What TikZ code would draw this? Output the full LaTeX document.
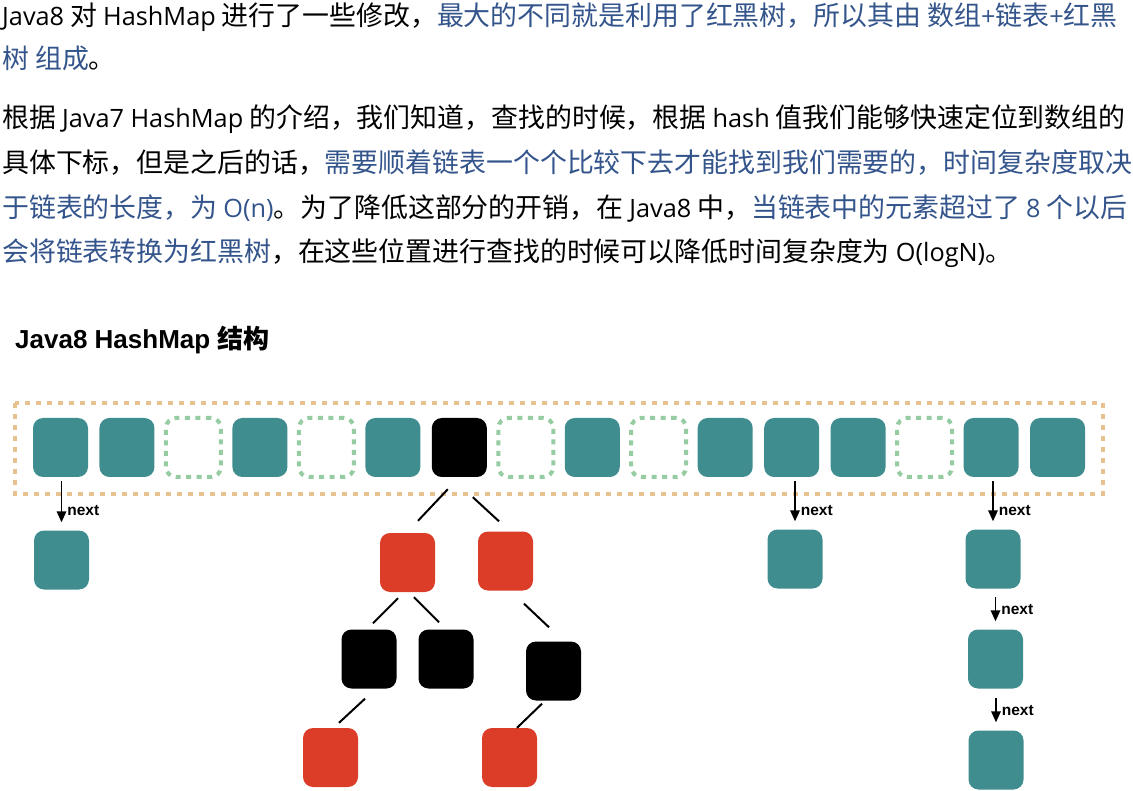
\documentclass[tikz,border=0pt]{standalone}
\usepackage{fontspec}
\setmainfont{Noto Sans CJK SC}
\newfontfamily\lat{Open Sans}[Scale=0.94]
\newfontfamily\hel{Liberation Sans}
\newfontfamily\cjk{Noto Sans CJK SC}
\usetikzlibrary{arrows.meta,calc}
\definecolor{tealc}{RGB}{64,141,143}
\definecolor{redn}{RGB}{220,61,40}
\definecolor{bluet}{RGB}{52,85,140}
\definecolor{orangeb}{RGB}{232,194,142}
\definecolor{greenb}{RGB}{150,204,162}
\begin{document}
\begin{tikzpicture}[x=1pt,y=-1pt,
  para/.style={anchor=base west, inner sep=0pt, font=\fontsize{26.9}{30}\selectfont},
  box/.style={rounded corners=10pt, minimum width=55pt, minimum height=59pt, inner sep=0pt},
  cellT/.style={box, fill=tealc},
  cellB/.style={box, fill=black},
  cellR/.style={box, fill=redn},
  cellE/.style={box, draw=greenb, line width=4pt, dash pattern=on 5pt off 5.5pt},
  frame/.style={draw=orangeb, line width=4.5pt, dash pattern=on 5pt off 6pt},
  arr/.style={-{Triangle[width=9.5pt,length=11pt]}, line width=1.7pt},
  nextl/.style={font=\hel\bfseries\fontsize{15.5}{16}\selectfont, anchor=west, inner sep=0pt, xshift=5pt},
  edge/.style={line width=2pt}]
\useasboundingbox (0,0) rectangle (1133,791);

% paragraph 1
\node[para] (p1) at (2,26) {{\lat Java8} 对 {\lat HashMap} 进行了一些修改，\textcolor{bluet}{最大的不同就是利用了红黑树，所以其由 数组{\lat +}链表{\lat +}红黑}};
\node[para] (p2) at (2,69) {\textcolor{bluet}{树 组成}。};
% paragraph 2
\node[para] (p3) at (2,128) {根据 {\lat Java7 HashMap} 的介绍，我们知道，查找的时候，根据 {\lat hash} 值我们能够快速定位到数组的};
\node[para] (p4) at (2,173) {具体下标，但是之后的话，\textcolor{bluet}{需要顺着链表一个个比较下去才能找到我们需要的，时间复杂度取决}};
\node[para] (p5) at (2,218) {\textcolor{bluet}{于链表的长度，为 {\lat O(n)}}。为了降低这部分的开销，在 {\lat Java8} 中，\textcolor{bluet}{当链表中的元素超过了 {\lat 8} 个以后}};
\node[para] (p6) at (2,262) {\textcolor{bluet}{会将链表转换为红黑树}，在这些位置进行查找的时候可以降低时间复杂度为 {\lat O(logN)}。};

% title
\node[anchor=base west, inner sep=0pt, font=\hel\bfseries\fontsize{26}{30}\selectfont] (title) at (15,349) {Java8 HashMap {\cjk\bfseries 结构}};

% array frame
\draw[frame] (15,403) rectangle (1103,494);

% array cells
\foreach \t [count=\i from 0] in {T,T,E,T,E,T,B,E,T,E,T,T,T,E,T,T}
  \node[cell\t] (c\i) at ({60.5+66.47*\i},447.5) {};

% linked lists
\node[cellT] (L1) at (61.5,560) {};
\node[cellT] (L12) at (795,559) {};
\node[cellT] (R1) at (993,559) {};
\node[cellT] (R2) at (995.5,659) {};
\node[cellT] (R3) at (996,760) {};

\draw[arr, shorten <=4pt, shorten >=8pt] (L1.north |- c0.south) -- node[nextl, pos=0.63] {next} (L1.north);
\draw[arr, shorten <=4pt, shorten >=8pt] (L12.north |- c11.south) -- node[nextl, pos=0.63] {next} (L12.north);
\draw[arr, shorten <=4pt, shorten >=8pt] (R1.north |- c14.south) -- node[nextl, pos=0.63] {next} (R1.north);
\draw[arr, shorten <=8pt, shorten >=8pt] (R2.north |- R1.south) -- node[nextl, pos=0.52] {next} (R2.north);
\draw[arr, shorten <=9pt, shorten >=8pt] (R3.north |- R2.south) -- node[nextl, pos=0.52] {next} (R3.north);

% red-black tree
\node[cellR] (rL) at (407.5,562.5) {};
\node[cellR] (rR) at (505.5,561) {};
\node[cellB] (bLL) at (369,659) {};
\node[cellB] (bLR) at (446,659) {};
\node[cellB] (bR) at (553.5,671) {};
\node[cellR] (rLL) at (330.5,757.5) {};
\node[cellR] (rRR) at (509.5,757.5) {};

\draw[edge] ([shift={(-11.5,12)}]c6.south) -- ([shift={(10.5,-12)}]rL.north);
\draw[edge] ([shift={(13.5,20)}]c6.south) -- ([shift={(-6.5,-10)}]rR.north);
\draw[edge] ([shift={(-9.5,6)}]rL.south) -- ([shift={(4,-6)}]bLL.north);
\draw[edge] ([shift={(6.5,5)}]rL.south) -- ([shift={(-7,-7)}]bLR.north);
\draw[edge] ([shift={(18.5,13)}]rR.south) -- ([shift={(-4.5,-14)}]bR.north);
\draw[edge] ([shift={(-4,10)}]bLL.south) -- ([shift={(8.5,-5)}]rLL.north);
\draw[edge] ([shift={(-11.5,3)}]bR.south) -- ([shift={(7.5,0)}]rRR.north);
\end{tikzpicture}
\end{document}
